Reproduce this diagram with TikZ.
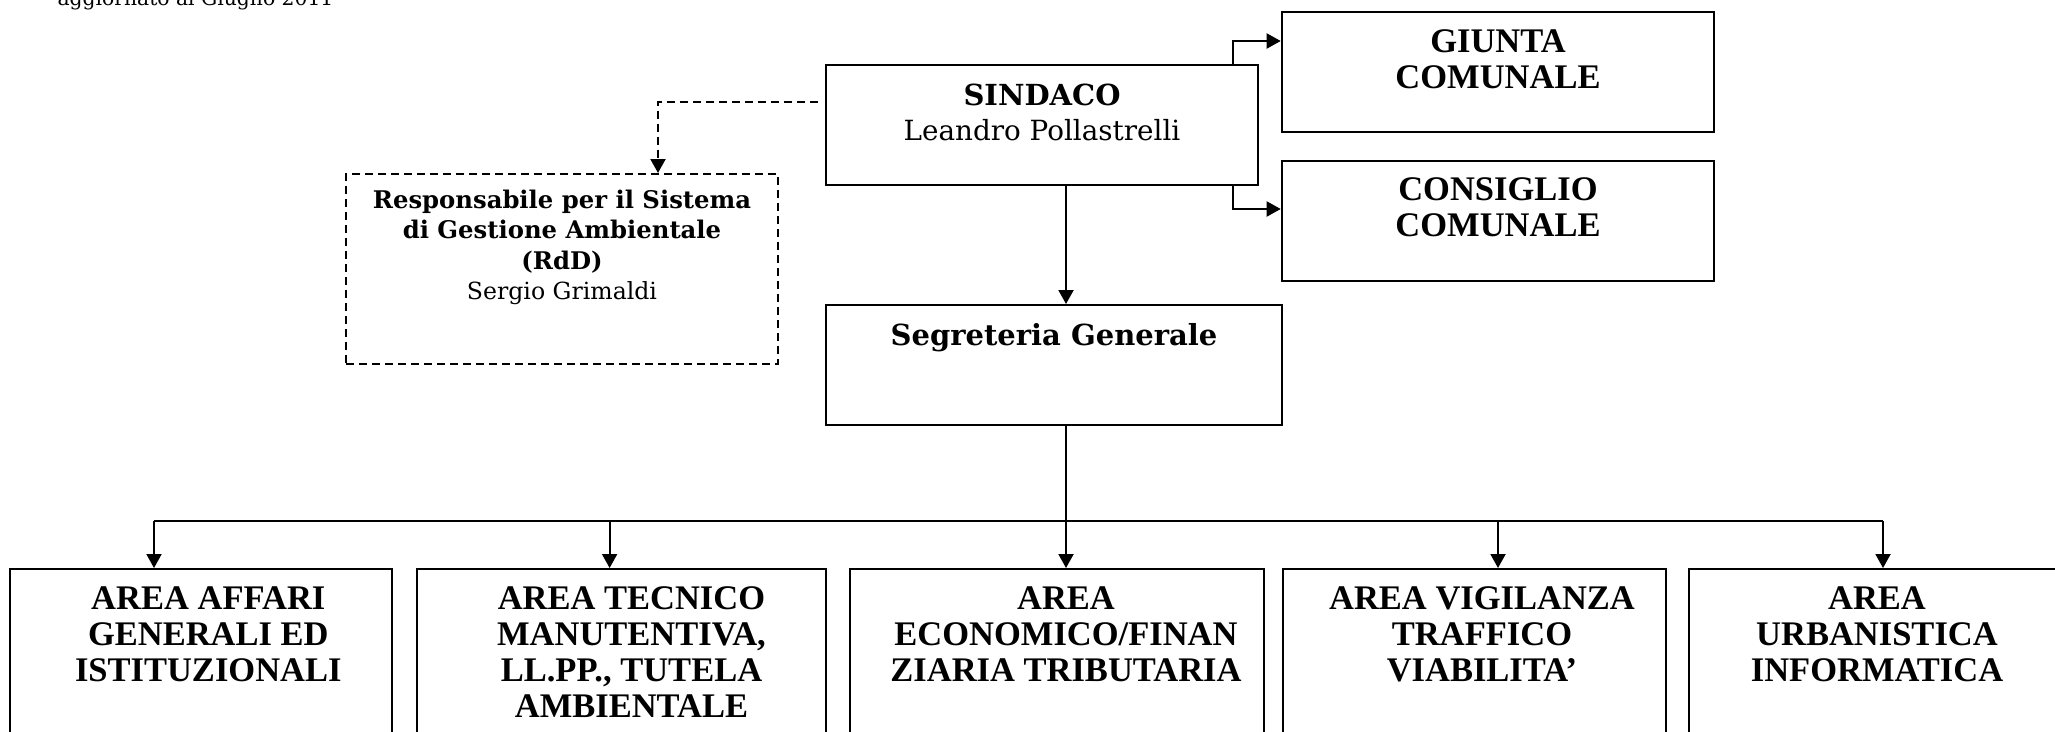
\documentclass[tikz,border=0pt]{standalone}
\usepackage{fontspec}
\setmainfont{DejaVu Serif}
\newfontfamily\tnr{Liberation Serif}
\usetikzlibrary{arrows.meta}
\tikzset{
  box/.style={draw, line width=2pt, inner sep=0pt, minimum height=120pt},
  dbox/.style={draw, line width=2pt, dash pattern=on 8pt off 5pt, inner sep=0pt},
  lbl/.style={anchor=base, align=center, inner sep=0pt},
  geo/.style={lbl, font=\fontsize{29}{35.7}\selectfont},
  tms/.style={lbl, font=\tnr\bfseries\fontsize{34.5}{36}\selectfont},
  conn/.style={line width=2pt},
  arr/.style={line width=2pt, -{Triangle[length=14pt,width=15pt]}},
  darr/.style={line width=2pt, dash pattern=on 8pt off 5pt, -{Triangle[length=14pt,width=15pt]}}
}
\begin{document}
\begin{tikzpicture}[x=1pt,y=-1pt]
\useasboundingbox (0,0) rectangle (2055,731);
\clip (0,0) rectangle (2055,731);
% boxes
\node[box, minimum width=432pt] (sindaco) at (1042,125) {};
\node[box, minimum width=432.6pt] (giunta) at (1498,72.3) {};
\node[box, minimum width=432.6pt] (consiglio) at (1498,221) {};
\node[dbox, minimum width=432pt, minimum height=190pt] (rdd) at (562,269) {};
\node[box, minimum width=456.6pt] (segr) at (1054,365) {};
\node[box, minimum width=382pt, minimum height=201pt] (a1) at (200.9,669.5) {};
\node[box, minimum width=408.7pt, minimum height=201pt] (a2) at (621.7,669.5) {};
\node[box, minimum width=414pt, minimum height=201pt] (a3) at (1056.5,669.5) {};
\node[box, minimum width=383pt, minimum height=201pt] (a4) at (1474.5,669.5) {};
\node[box, minimum width=381pt, minimum height=201pt] (a5) at (1879.5,669.5) {};
% texts (anchor=base is the baseline of the last line)
\node[lbl, font=\fontsize{20.3}{26}\selectfont] (note) at (195.5,5) {aggiornato al Giugno 2011};
\node[geo] (sindacoT) at (1042,140.7) {\textbf{SINDACO}\\{\fontsize{27.8}{35.7}\selectfont Leandro Pollastrelli}};
\node[tms] (giuntaT) at (1498,88.3) {GIUNTA\\COMUNALE};
\node[tms] (consiglioT) at (1498,236.7) {CONSIGLIO\\COMUNALE};
\node[lbl, font=\fontsize{24.3}{30.3}\selectfont] (rddT) at (562,299.3) {\textbf{Responsabile per il Sistema}\\\textbf{di Gestione Ambientale}\\\textbf{(RdD)}\\{\fontsize{23.6}{30.3}\selectfont Sergio Grimaldi}};
\node[geo] (segrT) at (1054,345.7) {\textbf{Segreteria Generale}};
\node[tms] (a1T) at (208.3,681.7) {AREA AFFARI\\GENERALI ED\\ISTITUZIONALI};
\node[tms] (a2T) at (631.5,717.6) {AREA TECNICO\\MANUTENTIVA,\\LL.PP., TUTELA\\AMBIENTALE};
\node[tms] (a3T) at (1066,681.7) {AREA\\ECONOMICO/FINAN\\ZIARIA TRIBUTARIA};
\node[tms] (a4T) at (1482,681.7) {AREA VIGILANZA\\TRAFFICO\\VIABILITA’};
\node[tms] (a5T) at (1877,681.7) {AREA\\URBANISTICA\\INFORMATICA};
% helper coordinates
\coordinate (cx) at (1066,0);
\coordinate (jx) at (1233,41);
\coordinate (kx) at (1233,209);
\coordinate (dy) at (658,101.7);
\coordinate (bus) at (0,521);
\coordinate (p1) at (154,0);
\coordinate (p2) at (609.6,0);
\coordinate (p4) at (1498,0);
\coordinate (p5) at (1883,0);
% connectors
\draw[arr] (sindaco.south -| cx) -- (segr.north -| cx);
\draw[arr] (sindaco.north -| jx) |- (giunta.west |- jx);
\draw[arr] (sindaco.south -| kx) |- (consiglio.west |- kx);
\draw[darr, shorten <=7pt] (sindaco.west |- dy) -| (rdd.north -| dy);
\draw[arr] (segr.south -| cx) -- (a3.north -| cx);
\draw[conn] (p1 |- bus) -- (p5 |- bus);
\draw[arr] (p1 |- bus) -- (a1.north -| p1);
\draw[arr] (p2 |- bus) -- (a2.north -| p2);
\draw[arr] (p4 |- bus) -- (a4.north -| p4);
\draw[arr] (p5 |- bus) -- (a5.north -| p5);
\end{tikzpicture}
\end{document}
